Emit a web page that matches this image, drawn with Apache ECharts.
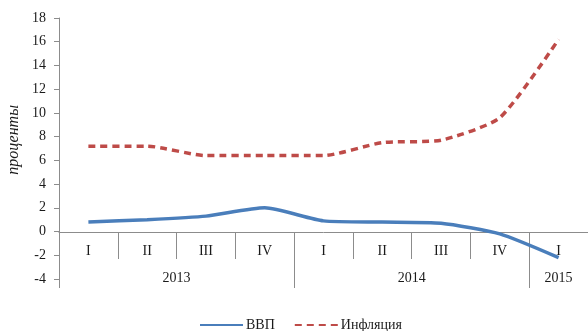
<!DOCTYPE html>
<html>
<head>
<meta charset="utf-8">
<script src="https://cdn.jsdelivr.net/npm/echarts@6/dist/echarts.min.js"></script>
<style>
  html, body { margin: 0; padding: 0; background: #fff; }
  #chart { width: 588px; height: 331px; }
</style>
</head>
<body>
<div id="chart"></div>
<script>
// Quarterly figures, 2013 Q1 – 2015 Q1
const quarters = ['I', 'II', 'III', 'IV', 'I', 'II', 'III', 'IV', 'I'];
const years = ['2013', '2014', '2015'];
const yearSpans = [4, 4, 1];            // quarters in each year group
const gdp = [0.8, 1.0, 1.3, 2.0, 0.9, 0.8, 0.7, -0.2, -2.2];
const inflation = [7.2, 7.2, 6.4, 6.4, 6.4, 7.5, 7.7, 9.6, 16.2];
const yTicks = { min: -4, max: 18, step: 2 };

// Year group boundaries and centres in quarter units
const yearBounds = [0];
yearSpans.forEach(s => yearBounds.push(yearBounds[yearBounds.length - 1] + s));
const yearCentres = yearSpans.map((s, i) => yearBounds[i] + s / 2);

const FONT = '"Liberation Serif", "Times New Roman", serif';
const AXIS_GREY = '#8c8c8c';
const TEXT = '#1a1a1a';

// Plot frame: the category axis sits on the zero line
const GRID = { left: 59, right: -2, top: 18, bottom: 52 };
const plotH = 331 - GRID.top - GRID.bottom;
const zeroOffset = -Math.round(plotH * (0 - yTicks.min) / (yTicks.max - yTicks.min));

const chart = echarts.init(document.getElementById('chart'), null, { renderer: 'canvas' });

chart.setOption({
  animation: false,
  backgroundColor: '#ffffff',
  textStyle: { fontFamily: FONT },
  grid: Object.assign({ containLabel: false }, GRID),
  legend: {
    top: 313,
    left: 194,
    itemWidth: 43,
    itemHeight: 10,
    itemGap: 19,
    itemStyle: { opacity: 0 },
    textStyle: { fontFamily: FONT, fontSize: 14, color: TEXT, padding: [0, 0, 0, -2] },
    data: ['ВВП', 'Инфляция']
  },
  xAxis: [
    {
      type: 'category',
      data: quarters,
      boundaryGap: true,
      position: 'bottom',
      offset: zeroOffset,
      axisLine: { onZero: false, lineStyle: { color: AXIS_GREY, width: 1 } },
      axisTick: { show: true, interval: 0, length: 27, lineStyle: { color: AXIS_GREY } },
      axisLabel: { interval: 0, margin: 12, fontFamily: FONT, fontSize: 14, color: TEXT },
      splitLine: { show: false }
    },
    {
      type: 'value',
      position: 'bottom',
      offset: zeroOffset,
      min: 0,
      max: quarters.length,
      axisLine: { show: false, onZero: false },
      axisTick: {
        show: true,
        length: 56,
        customValues: yearBounds.slice(0, -1),
        lineStyle: { color: AXIS_GREY }
      },
      axisLabel: {
        show: true,
        customValues: yearCentres,
        formatter: v => years[yearCentres.indexOf(v)] || '',
        margin: 39,
        fontFamily: FONT,
        fontSize: 14,
        color: TEXT
      },
      splitLine: { show: false }
    }
  ],
  yAxis: {
    type: 'value',
    min: yTicks.min,
    max: yTicks.max,
    interval: yTicks.step,
    axisLine: { show: true, lineStyle: { color: AXIS_GREY } },
    axisTick: { show: true, length: 5, lineStyle: { color: AXIS_GREY } },
    axisLabel: { margin: 13, fontFamily: FONT, fontSize: 14, color: TEXT },
    splitLine: { show: false }
  },
  graphic: [
    {
      type: 'text',
      left: 6,
      top: 105,
      rotation: Math.PI / 2,
      style: {
        text: 'проценты',
        font: 'italic 16px ' + FONT,
        fill: TEXT
      }
    }
  ],
  series: [
    {
      name: 'ВВП',
      type: 'line',
      xAxisIndex: 0,
      data: gdp,
      smooth: 0.2,
      symbol: 'none',
      lineStyle: { color: '#4a7ebb', width: 3.5 },
      itemStyle: { color: '#4a7ebb' }
    },
    {
      name: 'Инфляция',
      type: 'line',
      xAxisIndex: 0,
      data: inflation,
      smooth: 0.2,
      symbol: 'none',
      lineStyle: { color: '#be4b48', width: 3.5, type: [7, 5] },
      itemStyle: { color: '#be4b48' }
    }
  ]
});
</script>
</body>
</html>
